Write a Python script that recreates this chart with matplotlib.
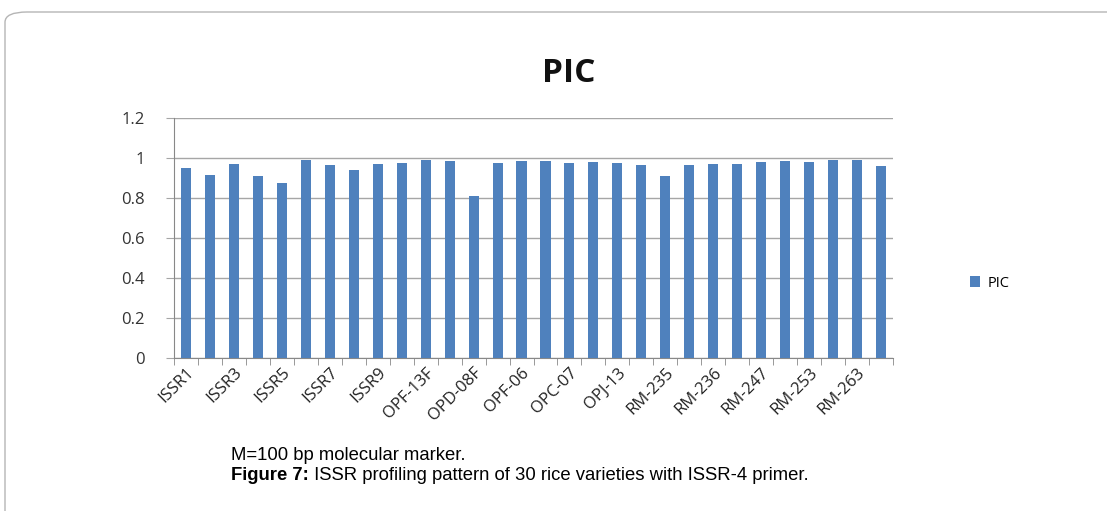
import matplotlib.pyplot as plt
import numpy as np
from matplotlib import font_manager
from matplotlib.patches import FancyBboxPatch
from matplotlib.ticker import FuncFormatter

# dados (30 marcadores, rótulo em um sim outro não)
rotulos = ["ISSR1", "ISSR3", "ISSR5", "ISSR7", "ISSR9", "OPF-13F", "OPD-08F",
           "OPF-06", "OPC-07", "OPJ-13", "RM-235", "RM-236", "RM-247", "RM-253", "RM-263"]
pic = [0.948, 0.912, 0.968, 0.908, 0.873, 0.987, 0.963, 0.937, 0.970, 0.975,
       0.987, 0.982, 0.808, 0.975, 0.983, 0.982, 0.972, 0.977, 0.972, 0.965,
       0.910, 0.962, 0.968, 0.970, 0.980, 0.983, 0.980, 0.987, 0.990, 0.957]
y_ticks = [0, 0.2, 0.4, 0.6, 0.8, 1.0, 1.2]

cor = "#4F81BD"

# fonte estreita para a legenda da figura, se existir
nomes = {f.name for f in font_manager.fontManager.ttflist}
if "Liberation Sans Narrow" in nomes:
    fonte_leg, tam_leg = "Liberation Sans Narrow", 13
else:
    fonte_leg, tam_leg = "Liberation Sans", 13.3

fig = plt.figure(figsize=(11.07, 5.11), dpi=100)

# moldura arredondada
moldura = FancyBboxPatch((5 / 1107, -0.2), 1.2, (511 - 12) / 511 + 0.2,
                         boxstyle="round,pad=0,rounding_size=0.02",
                         transform=fig.transFigure, facecolor="none",
                         edgecolor="#b5b5b5", linewidth=1.0)
fig.patches.append(moldura)

ax = fig.add_axes([174 / 1107, 153.3 / 511, 719 / 1107, 240 / 511])
x = np.arange(len(pic))
ax.bar(x, pic, width=0.42, color=cor, label="PIC", zorder=3)

ax.set_xlim(-0.5, len(pic) - 0.5)
ax.set_ylim(0, 1.2)
ax.set_yticks(y_ticks)
ax.yaxis.set_major_formatter(FuncFormatter(lambda v, p: "%g" % v))
ax.grid(axis="y", color="#a6a6a6", linewidth=1.0, zorder=0)

ax.set_xticks(x[::2])
ax.set_xticklabels(rotulos, rotation=45, ha="right", rotation_mode="anchor",
                   fontsize=12, color="#222222", family="Open Sans")
ax.set_xticks(np.arange(-0.5, len(pic)), minor=True)
ax.tick_params(axis="x", which="major", length=0, pad=5)
ax.tick_params(axis="x", which="minor", length=5, color="#888888")
ax.tick_params(axis="y", length=6, color="#a6a6a6", pad=15, labelsize=12,
               labelcolor="#333333")
for lbl in ax.get_yticklabels():
    lbl.set_family("Open Sans")

for s in ["top", "right"]:
    ax.spines[s].set_visible(False)
ax.spines["left"].set_color("#888888")
ax.spines["bottom"].set_color("#888888")

fig.text(569 / 1107, 1 - 73 / 511, "PIC", ha="center", va="center",
         fontsize=24, fontweight="bold", family="Open Sans", color="#111111")

leg = fig.legend(loc="center left", bbox_to_anchor=(957 / 1107, 1 - 283 / 511),
                 frameon=False, prop={"family": "Open Sans", "size": 10.5},
                 handlelength=0.7, handleheight=0.7, handletextpad=0.5)

fig.text(231 / 1107, 1 - 455 / 511, "M=100 bp molecular marker.",
         ha="left", va="center", fontsize=tam_leg, family=fonte_leg)
t_bold = fig.text(231 / 1107, 1 - 476 / 511, "Figure 7:", ha="left", va="center",
                  fontsize=tam_leg, family=fonte_leg, fontweight="bold")
fig.canvas.draw()
larg = t_bold.get_window_extent().width
fig.text((231 + larg) / 1107, 1 - 476 / 511,
         " ISSR profiling pattern of 30 rice varieties with ISSR-4 primer.",
         ha="left", va="center", fontsize=tam_leg, family=fonte_leg)

fig.savefig("out.png", dpi=100)
